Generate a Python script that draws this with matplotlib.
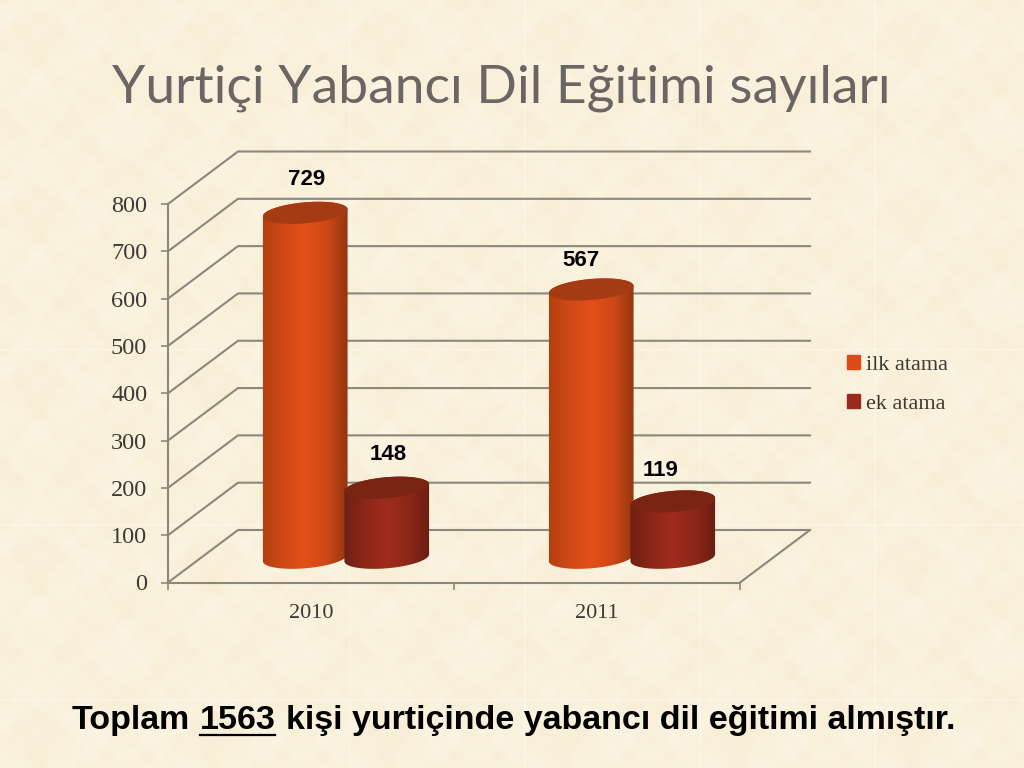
import numpy as np
import matplotlib
matplotlib.use("Agg")
import matplotlib.pyplot as plt
from matplotlib.colors import LinearSegmentedColormap
from matplotlib.patches import Patch, Polygon

years = ["2010", "2011"]
ilk_atama = [729, 567]
ek_atama = [148, 119]
y_ticks = [0, 100, 200, 300, 400, 500, 600, 700, 800]

W, H = 1024, 768
x0_px, x1_px = 168, 740
y0_px, y800_px = 582.5, 204
ppx = (x1_px - x0_px) / 2          # pixels per category
ppy = (y0_px - y800_px) / 800      # pixels per unit
depth_x = 70 / ppx
depth_y = 52.5 / ppy

grid_col = "#8b877a"
orange_cmap = LinearSegmentedColormap.from_list("o", ["#b2400f", "#d04916", "#e35019", "#cf4816", "#943610"])
red_cmap = LinearSegmentedColormap.from_list("r", ["#6e2012", "#8c2719", "#a02c1c", "#8c2719", "#6a1e12"])

fig = plt.figure(figsize=(W / 100, H / 100), dpi=100)

# parchment background, blotches repeated every 175px
bg = fig.add_axes([0, 0, 1, 1], zorder=0)
yy, xx = np.mgrid[0:H, 0:W]
tex = np.zeros((H, W))
for fx, fy, ph, ph2, amp in [(1, 2, 0.4, 1.9, 1.0), (2, 1, 2.1, 0.3, 1.0), (3, 4, 4.0, 2.2, 0.8),
                             (5, 3, 1.3, 5.1, 0.7), (4, 7, 5.2, 3.6, 0.6), (8, 5, 3.3, 0.8, 0.5),
                             (9, 11, 0.9, 4.4, 0.4), (13, 10, 2.7, 1.2, 0.3)]:
    tex += amp * np.sin(2 * np.pi * fx * xx / 175 + ph) * np.sin(2 * np.pi * fy * yy / 175 + ph2)
tex = tex / np.abs(tex).max()
base = np.array([250, 241, 220], dtype=float)
img = base[None, None, :] + tex[:, :, None] * np.array([2, 4, 8])
for k in [350, 525, 700, 875]:
    img[:, k - 1:k + 1] = img[:, k - 1:k + 1] * 0.7 + np.array([255, 252, 240]) * 0.3
for k in [350, 525, 700]:
    img[k - 1:k + 1, :] = img[k - 1:k + 1, :] * 0.7 + np.array([255, 252, 240]) * 0.3
bg.imshow(img.clip(0, 255).astype(np.uint8), aspect="auto")
bg.axis("off")

ax = fig.add_axes([x0_px / W, 1 - y0_px / H, (x1_px - x0_px) / W, (y0_px - y800_px) / H], zorder=1)
ax.patch.set_visible(False)

# side and back walls
for v in y_ticks:
    ax.plot([-0.5, -0.5 + depth_x, 1.5 + depth_x], [v, v + depth_y, v + depth_y],
            color=grid_col, lw=1.5, clip_on=False, zorder=1)
ax.plot([1.5, 1.5 + depth_x], [0, depth_y], color=grid_col, lw=1.5, clip_on=False, zorder=1)


def ellipse(cx, cy, t):
    a, b, th = 42.5, 10.5, np.radians(5)
    dx = a * np.cos(t) * np.cos(th) - b * np.sin(t) * np.sin(th)
    dy = a * np.cos(t) * np.sin(th) + b * np.sin(t) * np.cos(th)
    return cx + dx / ppx, cy + dy / ppy


base_y = (depth_y * ppy / 2 - 1.5) / ppy


def cylinder(cx, value, cmap, top_col, z):
    top_y = base_y + value
    t_low = np.linspace(np.pi, 2 * np.pi, 40)
    t_up = np.linspace(0, np.pi, 40)
    bx, by = ellipse(cx, base_y, t_low)
    tx, ty = ellipse(cx, top_y, t_up)
    body = Polygon(np.column_stack([np.r_[bx, tx], np.r_[by, ty]]), closed=True,
                   transform=ax.transData, fc="none", ec="none")
    ax.add_patch(body)
    half = 43 / ppx
    grad = np.linspace(0, 1, 128)[None, :]
    im = ax.imshow(grad, cmap=cmap, extent=[cx - half, cx + half, 0, top_y + 30],
                   aspect="auto", zorder=z)
    im.set_clip_box(fig.bbox)
    im.set_clip_path(body)
    ex, ey = ellipse(cx, top_y, np.linspace(0, 2 * np.pi, 80))
    ax.fill(ex, ey, color=top_col, lw=0, zorder=z + 0.1, clip_on=False)


bar_off = 0.1425
bar_w_shift = depth_x / 2
for i in range(len(years)):
    cylinder(i - bar_off + bar_w_shift, ilk_atama[i], orange_cmap, "#a53b12", 3 + i)
    cylinder(i + bar_off + bar_w_shift, ek_atama[i], red_cmap, "#7a2414", 3.5 + i)

# value labels, offsets in pixels from the top of each cylinder
label_dx = [[1.5, 1], [-10, -12]]
label_dy = [[33, 33], [29, 31]]
for i in range(len(years)):
    for j, vals in enumerate([ilk_atama, ek_atama]):
        cx = i + (-bar_off if j == 0 else bar_off) + bar_w_shift
        ax.annotate(str(vals[i]), (cx, vals[i] + base_y), xytext=(label_dx[i][j] * 0.72, label_dy[i][j] * 0.72),
                    textcoords="offset points", ha="center", va="center", fontsize=16,
                    family="Liberation Sans", fontweight="bold", color="black",
                    annotation_clip=False, zorder=8)

ax.set_xlim(-0.5, 1.5)
ax.set_ylim(0, 800)
for s in ["top", "right"]:
    ax.spines[s].set_visible(False)
for s in ["left", "bottom"]:
    ax.spines[s].set_color(grid_col)
    ax.spines[s].set_linewidth(1.5)
ax.set_yticks(y_ticks)
ax.set_xticks([0, 1])
ax.set_xticklabels(years)
ax.set_xticks([-0.5, 0.5, 1.5], minor=True)
ax.tick_params(axis="x", which="major", length=0, pad=15.5)
ax.tick_params(axis="x", which="minor", length=5, width=1.2, color=grid_col)
ax.tick_params(axis="y", length=5, width=1.2, color=grid_col, pad=10)
for lab in ax.get_xticklabels():
    lab.set_family("Liberation Serif")
    lab.set_fontsize(16)
    lab.set_color("#3d3a36")
for lab in ax.get_yticklabels():
    lab.set_family("Liberation Serif")
    lab.set_fontsize(17.5)
    lab.set_color("#3d3a36")

handles = [Patch(color="#dc4a17"), Patch(color="#9a2a1c")]
leg = fig.legend(handles, ["ilk atama", "ek atama"], loc="upper left",
                 bbox_to_anchor=(847 / W, 1 - 355 / H), frameon=False, handlelength=0.6, handleheight=0.6,
                 handletextpad=0.27, labelspacing=0.85, borderaxespad=0, borderpad=0,
                 prop={"family": "Liberation Serif", "size": 16})
for t in leg.get_texts():
    t.set_color("#3d3a30")

fig.text(501 / W, 1 - 88 / H, "Yurtiçi Yabancı Dil Eğitimi sayıları", ha="center", va="center",
         fontsize=38.4, family="Lato", color="#6b6664")

# bottom sentence, underlined number in the middle
sent_y = 1 - 729 / H
for x, s in [(72, "Toplam"), (200, "1563"), (286, "kişi yurtiçinde yabancı dil eğitimi almıştır.")]:
    fig.text(x / W, sent_y, s, ha="left", va="baseline", fontsize=24.5,
             family="Liberation Sans", fontweight="bold", color="black")
fig.add_artist(plt.Line2D([200 / W, 275 / W], [1 - 735 / H] * 2, color="black", lw=1.6))

fig.savefig("out.png", dpi=100)
